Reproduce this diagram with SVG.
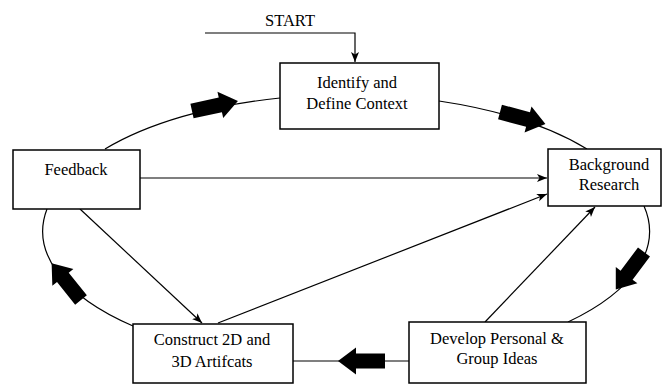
<svg xmlns="http://www.w3.org/2000/svg" width="662" height="384" viewBox="0 0 662 384">
<style>
.box{fill:#fff;stroke:#000;stroke-width:1.5}
.ln{fill:none;stroke:#000;stroke-width:1.2}
text{font-family:'Liberation Serif','Times New Roman','DejaVu Serif',serif;font-size:16.5px;fill:#000;text-anchor:middle}
</style>
<defs>
<marker id="ah" markerUnits="userSpaceOnUse" markerWidth="12" markerHeight="10" refX="10" refY="4" orient="auto">
<path d="M0,0 L10,4 L0,8 L2.5,4 Z" fill="#000"/>
</marker>
<path id="blk" d="M0,-7.5 L29,-7.5 L29,-13.5 L47,0 L29,13.5 L29,7.5 L0,7.5 Z" fill="#000"/>
</defs>
<g id="connectors">
<path class="ln" d="M105,149 A303,133 0 0 1 280,98"/>
<path class="ln" d="M439,101 A303,133 0 0 1 587,149"/>
<path class="ln" d="M644,206 A303,133 0 0 1 568,322"/>
<path class="ln" d="M133,326 A303,133 0 0 1 47,209"/>
<path class="ln" d="M205,33 H355 V62" marker-end="url(#ah)"/>
<path class="ln" d="M140,178 H547" marker-end="url(#ah)"/>
<path class="ln" d="M218,323 L547,194" marker-end="url(#ah)"/>
<path class="ln" d="M485,322 L595,207" marker-end="url(#ah)"/>
<path class="ln" d="M80,209 L202,323" marker-end="url(#ah)"/>
<path class="ln" d="M293,361 H409"/>
<use href="#blk" transform="translate(192,111) rotate(-12.3)"/>
<use href="#blk" transform="translate(500,112) rotate(14.9)"/>
<use href="#blk" transform="translate(644,252) rotate(126.9)"/>
<use href="#blk" transform="translate(81,300) rotate(-128.7)"/>
<use href="#blk" transform="translate(385,361) rotate(180)"/>
</g>
<text x="290" y="26" font-family="Liberation Serif, serif">START</text>
<g id="identify">
<rect class="box" x="280" y="63" width="159" height="66"/>
<text x="357" y="88" font-family="Liberation Serif, serif">Identify and</text>
<text x="357" y="109" font-family="Liberation Serif, serif">Define Context</text>
</g>
<g id="feedback">
<rect class="box" x="13" y="150" width="127" height="59"/>
<text x="76" y="175" font-family="Liberation Serif, serif">Feedback</text>
</g>
<g id="background">
<rect class="box" x="548" y="149" width="113" height="57"/>
<text x="609" y="170" font-family="Liberation Serif, serif">Background</text>
<text x="609" y="190" font-family="Liberation Serif, serif">Research</text>
</g>
<g id="construct">
<rect class="box" x="133" y="324" width="160" height="59"/>
<text x="212" y="345" font-family="Liberation Serif, serif">Construct 2D and</text>
<text x="212" y="367" font-family="Liberation Serif, serif">3D Artifcats</text>
</g>
<g id="develop">
<rect class="box" x="409" y="322" width="177" height="61"/>
<text x="497" y="344" font-family="Liberation Serif, serif">Develop Personal &amp;</text>
<text x="497" y="364" font-family="Liberation Serif, serif">Group Ideas</text>
</g>
</svg>
